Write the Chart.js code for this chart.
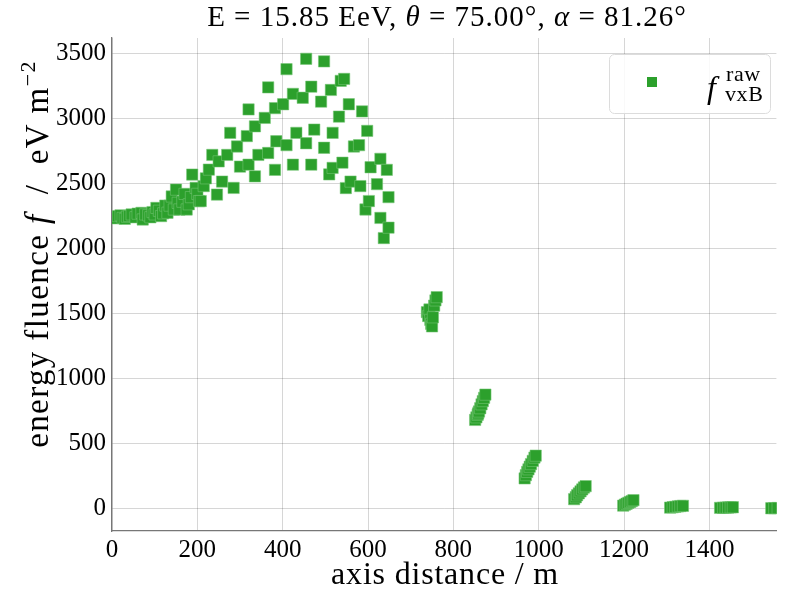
<!DOCTYPE html>
<html>
<head>
<meta charset="utf-8">
<script src="https://cdn.jsdelivr.net/npm/chart.js@4.4.0/dist/chart.umd.min.js"></script>
<style>
  html, body { margin: 0; padding: 0; background: #fff; }
  #wrap { width: 785px; height: 593px; }
</style>
</head>
<body>
<div id="wrap"><canvas id="fluence" width="785" height="593"></canvas></div>
<script>
// antenna positions close to the axis (inside the Cherenkov ring), m / eV m^-2
let nearDist = [5, 10, 14, 20, 25, 30, 35, 40, 46, 55, 60, 69, 72, 78, 85, 90, 95, 100, 104, 110, 115, 120,
    125, 130, 135, 140, 145, 150, 154, 158, 165, 170, 175, 180, 185, 188, 196, 200, 204, 208, 215, 220,
    227, 235, 246, 250, 258, 270, 277, 285, 293, 300, 316, 320, 320, 335, 335,
    343, 358, 366, 366, 382, 382, 385, 401, 409, 409, 424, 424, 432, 447, 455, 455, 467, 467, 474,
    490, 497, 497, 509, 513, 517, 517, 532, 536, 540, 544, 548, 555, 559, 567, 579, 582, 586, 594,
    598, 602, 606, 621, 629, 629, 637, 644, 648, 648];
let nearFluence = [2240, 2232, 2249, 2255, 2235, 2228, 2245, 2250, 2262, 2240, 2268, 2274, 2223, 2262, 2255, 2240, 2280, 2262, 2312, 2290, 2249, 2270,
    2330, 2275, 2330, 2400, 2300, 2453, 2351, 2300, 2360, 2420, 2300, 2340, 2395, 2569, 2466, 2420, 2364, 2365, 2480, 2540,
    2607, 2720, 2415, 2670, 2515, 2720, 2890, 2466, 2785, 2630, 2865, 3070, 2645, 2940, 2555,
    2720, 3005, 3240, 2735, 3080, 2605, 2825, 3110, 3380, 2795, 3190, 2645, 2890, 3160, 3460, 2810, 3245, 2645, 2915,
    3130, 3440, 2775, 2570, 3220, 2890, 2620, 3015, 3290, 2660, 3305, 2465, 3110, 2515, 2785, 2795, 2480, 3055, 2300,
    2905, 2365, 2625, 2495, 2690, 2235, 2080, 2605, 2395, 2160];

// antenna rings further out
let farDist = [738, 741, 744, 746, 748, 750, 752, 755, 758, 761,
    851, 854, 857, 858, 860, 863, 866, 869, 872, 875,
    967, 970, 973, 976, 979, 982, 986, 990, 993,
    1083, 1087, 1090, 1094, 1098, 1102, 1106, 1110,
    1198, 1202, 1206, 1210, 1214, 1218, 1222,
    1308, 1314, 1320, 1326, 1332, 1338,
    1425, 1432, 1438, 1444, 1450, 1455,
    1545, 1552, 1560];
let farFluence = [1510, 1480, 1530, 1450, 1420, 1400, 1470, 1560, 1600, 1625,
    680, 700, 720, 730, 745, 770, 800, 825, 850, 875,
    230, 255, 280, 300, 320, 340, 365, 390, 405,
    70, 85, 100, 115, 130, 145, 160, 170,
    20, 28, 35, 42, 48, 55, 62,
    5, 8, 11, 14, 17, 19,
    3, 4, 5, 6, 7, 8,
    0, 1, 2];

let xTicks = [0, 200, 400, 600, 800, 1000, 1200, 1400];
let yTicks = [0, 500, 1000, 1500, 2000, 2500, 3000, 3500];

let green = '#2ca02c';
let serif = '"Liberation Serif", "DejaVu Serif", serif';

let points = [];
nearDist.forEach((d, i) => points.push({ x: d, y: nearFluence[i] }));
farDist.forEach((d, i) => points.push({ x: d, y: farFluence[i] }));

// draws a line of text made from several pieces (italic, smaller, raised)
function drawParts(ctx, parts, x, y, spacing) {
    ctx.letterSpacing = (spacing || 0) + 'px';
    let total = 0;
    parts.forEach(p => {
        ctx.font = (p.italic ? 'italic ' : '') + p.size + 'px ' + serif;
        p.w = ctx.measureText(p.t).width;
        total += p.w;
    });
    let cx = x - total / 2;
    parts.forEach(p => {
        ctx.font = (p.italic ? 'italic ' : '') + p.size + 'px ' + serif;
        ctx.fillText(p.t, cx, y + (p.dy || 0));
        cx += p.w;
    });
    ctx.letterSpacing = '0px';
}

let textPlugin = {
    id: 'texts',
    afterDraw(chart) {
        let ctx = chart.ctx;
        ctx.save();
        ctx.fillStyle = '#000';
        ctx.textAlign = 'left';
        ctx.textBaseline = 'alphabetic';

        // title
        drawParts(ctx, [
            { t: 'E = 15.85 EeV, ', size: 29 },
            { t: 'θ', size: 29, italic: true },
            { t: ' = 75.00°, ', size: 29 },
            { t: 'α', size: 29, italic: true },
            { t: ' = 81.26°', size: 29 }
        ], 447, 26, 1);

        // x label
        drawParts(ctx, [{ t: 'axis distance / m', size: 32 }], 445, 584, 0.8);

        // y label
        ctx.save();
        ctx.translate(48, 254);
        ctx.rotate(-Math.PI / 2);
        drawParts(ctx, [
            { t: 'energy fluence ', size: 33 },
            { t: 'f', size: 33, italic: true },
            { t: '  /  eV m', size: 33 },
            { t: '−2', size: 22, dy: -13 }
        ], 0, 0, 1.4);
        ctx.restore();

        // legend
        ctx.beginPath();
        ctx.roundRect(609.5, 54.5, 161, 59, 5);
        ctx.fillStyle = 'rgba(255,255,255,0.85)';
        ctx.fill();
        ctx.strokeStyle = '#dcdcdc';
        ctx.lineWidth = 1;
        ctx.stroke();
        ctx.fillStyle = green;
        ctx.fillRect(647, 77, 10, 10);
        ctx.fillStyle = '#000';
        ctx.font = 'italic 32px ' + serif;
        ctx.fillText('f', 707, 98);
        ctx.font = '22px ' + serif;
        ctx.letterSpacing = '0.6px';
        ctx.fillText('raw', 726, 81);
        ctx.fillText('vxB', 725, 101);
        ctx.letterSpacing = '0px';
        ctx.restore();
    }
};

let ctx = document.getElementById('fluence');
let myChart = new Chart(ctx, {
    type: 'scatter',
    data: {
        datasets: [{
            label: 'f raw vxB',
            data: points,
            pointStyle: 'rect',
            pointRadius: 8,
            pointHoverRadius: 8,
            backgroundColor: green,
            borderColor: 'rgba(120,200,120,0.9)',
            borderWidth: 0.6
        }]
    },
    options: {
        responsive: false,
        animation: false,
        layout: { padding: { top: 38, right: 0, left: 0, bottom: 0 } },
        plugins: {
            legend: { display: false },
            title: { display: false },
            tooltip: { enabled: false }
        },
        scales: {
            x: {
                type: 'linear',
                min: 0,
                max: 1557,
                afterFit: axis => { axis.height = 62; },
                afterBuildTicks: axis => { axis.ticks = xTicks.map(v => ({ value: v })); },
                ticks: {
                    color: '#000',
                    font: { family: serif, size: 25 },
                    padding: 4,
                    maxRotation: 0,
                    callback: v => String(v)
                },
                grid: { color: 'rgba(0,0,0,0.16)', lineWidth: 1, drawTicks: false },
                border: { color: '#777', width: 1.3 }
            },
            y: {
                type: 'linear',
                min: -175,
                max: 3620,
                afterFit: axis => { axis.width = 112; },
                afterBuildTicks: axis => { axis.ticks = yTicks.map(v => ({ value: v })); },
                ticks: {
                    color: '#000',
                    font: { family: serif, size: 25 },
                    padding: 6,
                    callback: v => String(v)
                },
                grid: { color: 'rgba(0,0,0,0.16)', lineWidth: 1, drawTicks: false },
                border: { color: '#777', width: 1.3 }
            }
        }
    },
    plugins: [textPlugin]
});
</script>
</body>
</html>
